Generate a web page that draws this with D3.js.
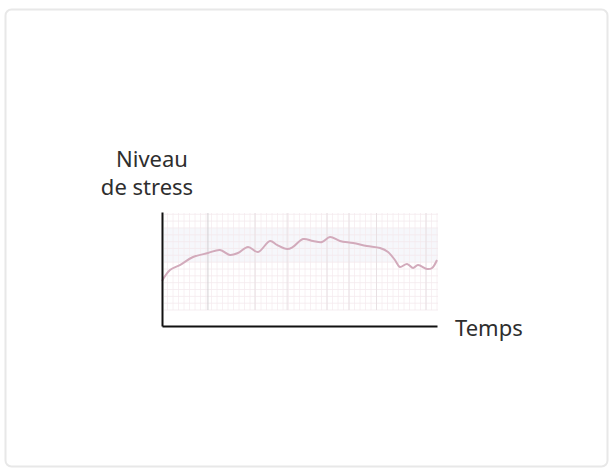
<!DOCTYPE html>
<html>
<head>
<meta charset="utf-8">
<script src="https://cdn.jsdelivr.net/npm/d3@7"></script>
<style>
  html, body { margin: 0; padding: 0; background: #fff; }
  svg { display: block; }
</style>
</head>
<body>
<svg id="chart" width="610" height="472"></svg>
<script>
// Stress level over time (arbitrary units, 0–100)
const time   = [0, 2.9, 6.5, 11.3, 16.7, 21.1, 24.7, 27.6, 31.3, 34.9, 39.3, 41.8, 45.5, 47.6, 51.3, 54.9, 58.2, 61.1, 64.7, 69.5, 74.5, 79.3, 82.2, 84.7, 86.5, 89.1, 91.3, 93.1, 96.4, 98.2, 100];
const stress = [39.5, 49.1, 53.5, 60.5, 64.0, 66.7, 62.3, 64.0, 69.3, 64.9, 74.6, 71.1, 67.5, 69.3, 76.3, 74.6, 73.7, 78.1, 74.6, 72.8, 70.2, 68.4, 64.9, 57.9, 51.8, 54.4, 50.9, 53.5, 50.0, 50.9, 57.9];

// Background recording-paper grid: stronger vertical marks (time units)
const markTimes = [16.7, 33.8, 45.5, 60.0, 68.0, 78.0, 96.0];

const yLabelLines = ["Niveau", "de stress"];
const xLabel = "Temps";

const svg = d3.select("#chart");

// Card
svg.append("rect")
  .attr("x", 5.5).attr("y", 9.5)
  .attr("width", 602).attr("height", 457)
  .attr("rx", 6)
  .attr("fill", "#fff")
  .attr("stroke", "#e8e8e8")
  .attr("stroke-width", 2);

const x = d3.scaleLinear().domain([0, 100]).range([162, 437]);
const y = d3.scaleLinear().domain([0, 100]).range([326, 212]);

const grid = svg.append("g");
const gx0 = x(0) + 2, gx1 = x(100) + 1, gy0 = y(100) + 1, gy1 = y(14);

// faint tinted band behind the curve
grid.append("rect")
  .attr("x", gx0).attr("y", y(86)).attr("width", gx1 - gx0).attr("height", y(56) - y(86))
  .attr("fill", "#f6f7fb");

// fine grid
const fineX = d3.range(0, 101, 2);
const fineY = d3.range(14, 101, 6);
grid.selectAll("line.fx").data(fineX).join("line")
  .attr("x1", d => x(d)).attr("x2", d => x(d))
  .attr("y1", gy0).attr("y2", gy1)
  .attr("stroke", "#f6ecf0").attr("stroke-width", 0.8);
grid.selectAll("line.fy").data(fineY).join("line")
  .attr("x1", gx0).attr("x2", gx1)
  .attr("y1", d => y(d)).attr("y2", d => y(d))
  .attr("stroke", "#f4eaee").attr("stroke-width", 0.8);
grid.selectAll("line.mk").data(markTimes).join("line")
  .attr("x1", d => x(d)).attr("x2", d => x(d))
  .attr("y1", gy0).attr("y2", gy1)
  .attr("stroke", (d, i) => i === 0 ? "#d2cfd2" : "#e8e0e3").attr("stroke-width", 1);

// Stress curve
const line = d3.line()
  .x((d, i) => x(time[i]))
  .y(d => y(d))
  .curve(d3.curveCatmullRom.alpha(0.5));

svg.append("path")
  .datum(stress)
  .attr("d", line)
  .attr("fill", "none")
  .attr("stroke", "#d2aabb")
  .attr("stroke-width", 2)
  .attr("stroke-linejoin", "round");

// Axes (bare lines, no ticks)
const xAxis = d3.axisBottom(x).tickValues([]).tickSizeOuter(0);
const yAxis = d3.axisLeft(y).tickValues([]).tickSizeOuter(0);
svg.append("g").attr("transform", `translate(0,${y(0)})`).call(xAxis)
  .select(".domain").attr("stroke", "#111").attr("stroke-width", 2);
svg.append("g").attr("transform", `translate(${x(0)},0)`).call(yAxis)
  .select(".domain").attr("stroke", "#111").attr("stroke-width", 2);

// Labels
const font = "'Noto Sans', 'Open Sans', sans-serif";
svg.selectAll("text.ylab").data(yLabelLines).join("text")
  .attr("class", "ylab")
  .attr("x", (d, i) => i === 0 ? 152 : 147)
  .attr("y", (d, i) => 167 + i * 28)
  .attr("text-anchor", "middle")
  .attr("font-family", font).attr("font-size", 22)
  .attr("fill", "#2e2e2e")
  .text(d => d);

svg.append("text")
  .attr("x", 455).attr("y", 336)
  .attr("font-family", font).attr("font-size", 22)
  .attr("fill", "#2e2e2e")
  .text(xLabel);
</script>
</body>
</html>
